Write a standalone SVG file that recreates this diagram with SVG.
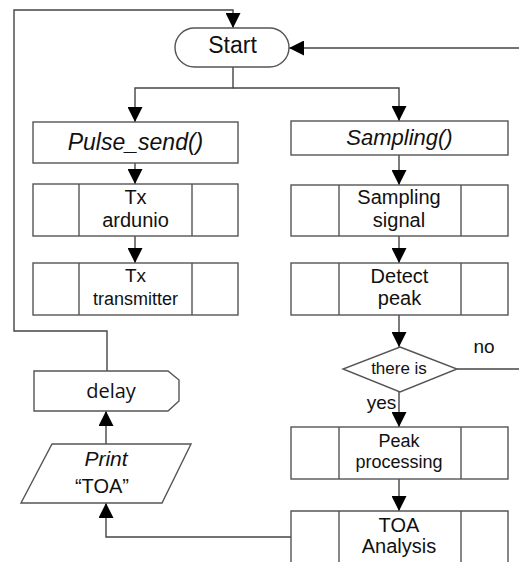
<svg xmlns="http://www.w3.org/2000/svg" width="519" height="562" viewBox="0 0 519 562">
<defs>
<style>
.box{fill:#fff;stroke:#555;stroke-width:1.4}
.ln{fill:none;stroke:#444;stroke-width:1.4}
.conn{fill:none;stroke:#444;stroke-width:1.4;marker-end:url(#ah)}
text{font-family:"Liberation Sans",Arial,sans-serif;fill:#111;text-anchor:middle}
.it{font-style:italic}
</style>
<marker id="ah" viewBox="0 0 15 15" refX="15" refY="7.5" markerWidth="15" markerHeight="15" markerUnits="userSpaceOnUse" orient="auto">
<path d="M0,0 L15,7.5 L0,15 Z" fill="#000"/>
</marker>
</defs>
<rect width="519" height="562" fill="#fff"/>
<g id="connectors">
<path class="conn" d="M233,67 V88 H135 V122"/>
<path class="conn" d="M233,88 H399 V121"/>
<path class="conn" d="M135,163 V184"/>
<path class="conn" d="M399,155 V185"/>
<path class="conn" d="M135,236 V263"/>
<path class="conn" d="M399,236 V263"/>
<path class="conn" d="M399,315 V347"/>
<path class="conn" d="M399,392 V427"/>
<path class="conn" d="M399,479 V511"/>
<path class="conn" d="M292,537 H106 V503"/>
<path class="conn" d="M106,444 V411"/>
<path class="conn" d="M107,371 V331 H14 V10 H233 V28"/>
<path class="ln" d="M457,369 H519"/>
<path class="conn" d="M519,48 H289"/>
</g>
<g id="start">
<rect class="box" x="175" y="28" width="114" height="39" rx="19.5"/>
<text x="232.5" y="53" font-size="23">Start</text>
</g>
<g id="pulse_send">
<rect class="box" x="33" y="122" width="205" height="41"/>
<text class="it" x="135.5" y="150" font-size="23">Pulse_send()</text>
</g>
<g id="sampling">
<rect class="box" x="291" y="121" width="217" height="34"/>
<text class="it" x="399.5" y="145" font-size="22">Sampling()</text>
</g>
<g id="tx_ardunio">
<rect class="box" x="33" y="184" width="205" height="52"/>
<path class="box" d="M79,184 V236 M192,184 V236"/>
<text x="135.5" y="204" font-size="20">Tx</text>
<text x="135.5" y="227" font-size="20">ardunio</text>
</g>
<g id="tx_transmitter">
<rect class="box" x="33" y="263" width="205" height="52"/>
<path class="box" d="M79,263 V315 M192,263 V315"/>
<text x="135.5" y="282" font-size="19">Tx</text>
<text x="135.5" y="305" font-size="18">transmitter</text>
</g>
<g id="sampling_signal">
<rect class="box" x="291" y="185" width="217" height="51"/>
<path class="box" d="M339,185 V236 M461,185 V236"/>
<text x="399" y="204" font-size="20">Sampling</text>
<text x="399" y="227" font-size="20">signal</text>
</g>
<g id="detect_peak">
<rect class="box" x="291" y="263" width="217" height="52"/>
<path class="box" d="M339,263 V315 M461,263 V315"/>
<text x="399.5" y="283" font-size="20">Detect</text>
<text x="399.5" y="305" font-size="20">peak</text>
</g>
<g id="decision">
<path class="box" d="M400,347 L457,369 L400,392 L343,369 Z"/>
<text x="399" y="374" font-size="17">there is</text>
<text x="484" y="353" font-size="19">no</text>
<text x="381.5" y="409" font-size="19">yes</text>
</g>
<g id="peak_processing">
<rect class="box" x="291" y="427" width="217" height="52"/>
<path class="box" d="M339,427 V479 M461,427 V479"/>
<text x="399" y="447" font-size="18">Peak</text>
<text x="399" y="468" font-size="18">processing</text>
</g>
<g id="toa_analysis">
<path class="box" d="M291,562 V511 H508 V562"/>
<path class="box" d="M339,511 V562 M461,511 V562"/>
<text x="399" y="532" font-size="20">TOA</text>
<text x="399" y="553" font-size="20">Analysis</text>
</g>
<g id="print">
<path class="box" d="M52,444 H191 L162,503 H21 Z"/>
<text class="it" x="106" y="466" font-size="21">Print</text>
<text x="102" y="493" font-size="20">“TOA”</text>
</g>
<g id="delay">
<path class="box" d="M34,371 H168 L179,380 V401 L168,411 H34 Z"/>
<text x="111" y="398" font-size="20" style="font-family:'Open Sans',sans-serif">delay</text>
</g>
</svg>
